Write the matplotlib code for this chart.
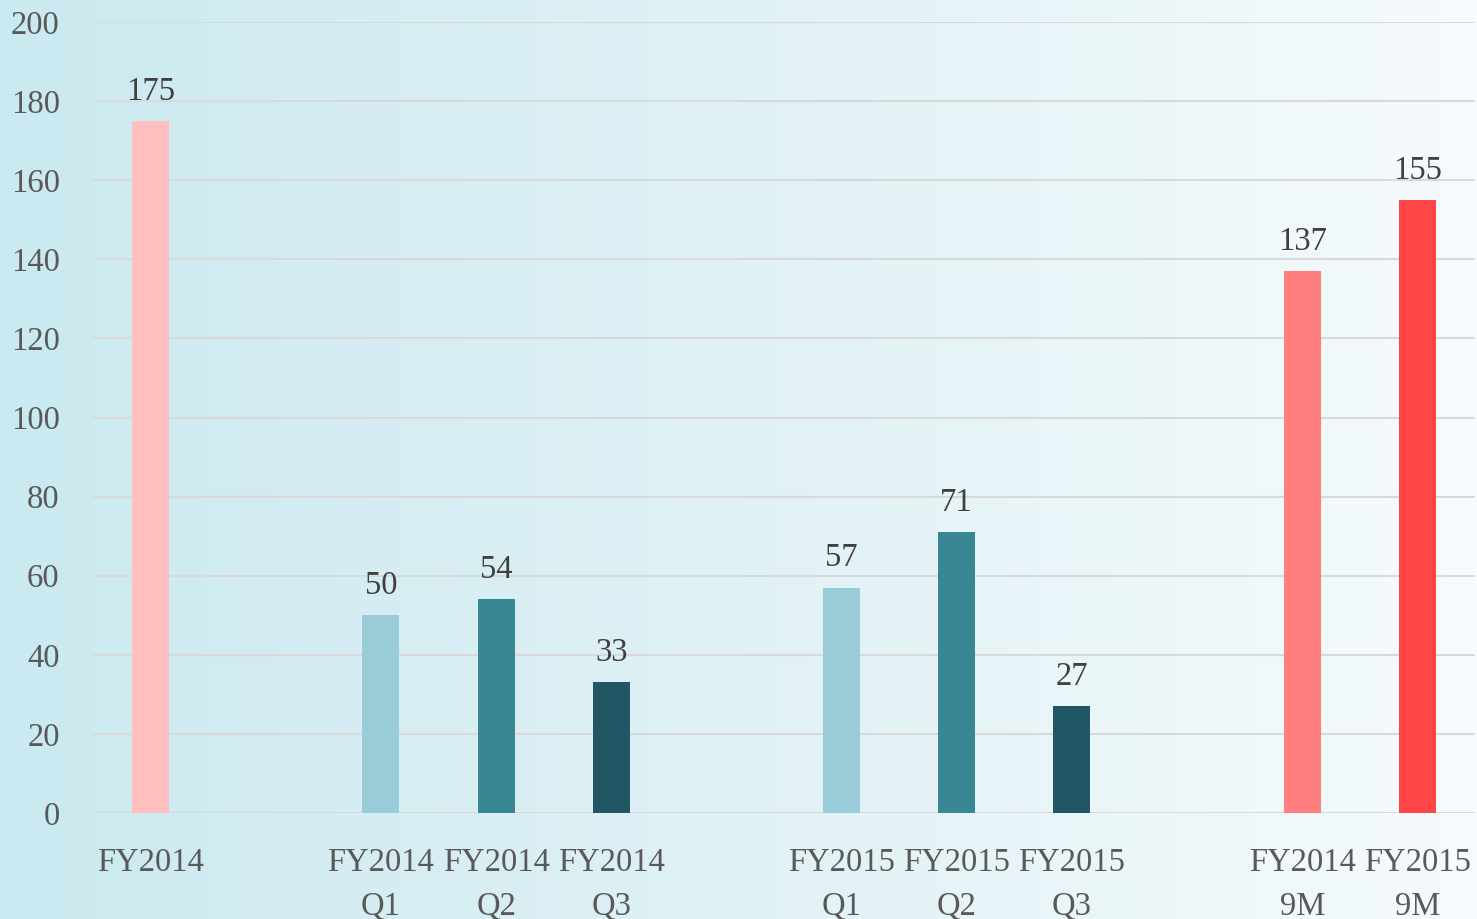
import numpy as np
import matplotlib.pyplot as plt
from matplotlib.colors import LinearSegmentedColormap

categories = ["FY2014", "", "FY2014\nQ1", "FY2014\nQ2", "FY2014\nQ3", "",
              "FY2015\nQ1", "FY2015\nQ2", "FY2015\nQ3", "", "FY2014\n9M", "FY2015\n9M"]
values = [175, None, 50, 54, 33, None, 57, 71, 27, None, 137, 155]
colors = ["#FFBFBF", None, "#99CCD8", "#398795", "#215765", None,
          "#99CCD8", "#398795", "#215765", None, "#FF7F7F", "#FF4545"]
yticks = [0, 20, 40, 60, 80, 100, 120, 140, 160, 180, 200]

text_color = "#595959"
plt.rcParams['font.family'] = ['Liberation Serif', 'DejaVu Serif']

fig = plt.figure(figsize=(14.77, 9.19), dpi=100)

# gradient background
bg = fig.add_axes([0, 0, 1, 1], zorder=-10)
grad = np.linspace(0, 1, 256).reshape(1, -1)
cmap = LinearSegmentedColormap.from_list("bg", ["#CAE9F0", "#E0F1F5", "#F6FBFD"])
bg.imshow(grad, aspect="auto", cmap=cmap, extent=[0, 1, 0, 1])
bg.axis("off")

ax = fig.add_axes([93 / 1477, 1 - 813 / 919, 1382 / 1477, 791 / 919])
ax.patch.set_alpha(0)

x = np.arange(len(categories))
for i, (v, c) in enumerate(zip(values, colors)):
    if v is None:
        continue
    ax.bar(x[i], v, width=0.32, color=c, zorder=3)
    ax.text(x[i], v + 3.6, str(v), ha="center", va="bottom",
            fontsize=23.5, color="#404040", zorder=4)

ax.set_xlim(-0.5, len(categories) - 0.5)
ax.set_ylim(0, 200)
ax.set_yticks(yticks)
ax.set_xticks(x)
ax.set_xticklabels(categories, fontsize=23.5, color=text_color, linespacing=1.55)
ax.tick_params(axis="y", labelsize=23.5, labelcolor=text_color, length=0, pad=24)
ax.tick_params(axis="x", length=0, pad=25)
ax.grid(axis="y", color="#D9D9D9", linewidth=1.5, zorder=0)
for s in ax.spines.values():
    s.set_visible(False)

fig.savefig("out.png", dpi=100)
